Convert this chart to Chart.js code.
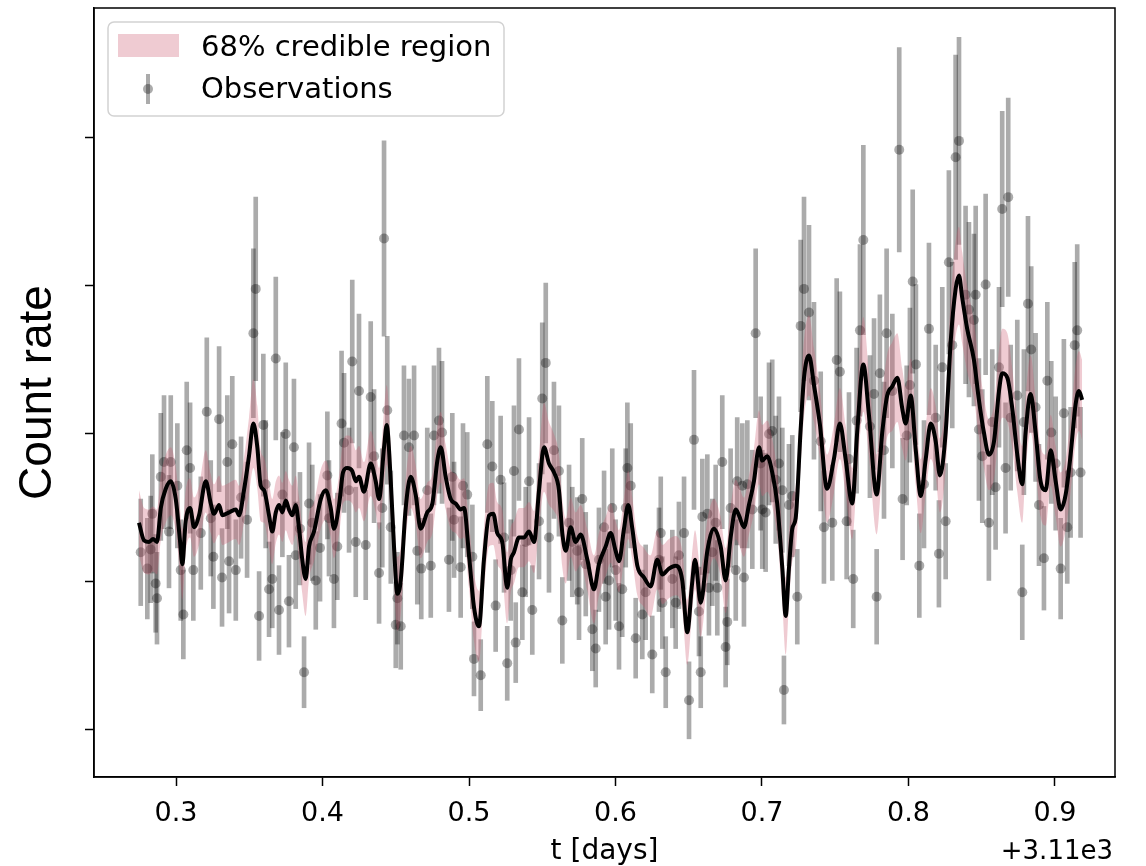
<!DOCTYPE html>
<html lang="en">
<head>
    <meta charset="UTF-8">
    <title>Count rate light curve</title>
    <script src="https://cdn.jsdelivr.net/npm/chart.js"></script>
    <style>
        body { margin: 0; background: #fff; }
    </style>
</head>
<body>
    <canvas id="lightCurveChart" width="1146" height="866"></canvas>
    <script>
        // tick positions (t offset from 3110 days) and hidden y ticks
        const xTickValues = [0.3, 0.4, 0.5, 0.6, 0.7, 0.8, 0.9];
        const yTickValues = [10, 20, 30, 40, 50];
        const timeOffsetLabel = '+3.11e3';

        // observations
        const obsTime = [
            0.2759,0.2804,0.2827,0.2838,0.2861,0.2870,0.2896,0.2918,0.2952,0.2964,
            0.3009,0.3032,0.3050,0.3073,0.3096,0.3118,0.3169,0.3210,0.3237,0.3255,
            0.3294,0.3314,0.3350,0.3362,0.3384,0.3408,0.3444,0.3485,0.3528,0.3544,
            0.3567,0.3596,0.3612,0.3635,0.3657,0.3681,0.3703,0.3726,0.3749,0.3771,
            0.3805,0.3817,0.3846,0.3874,0.3908,0.3930,0.3954,0.3983,0.4033,0.4044,
            0.4078,0.4101,0.4130,0.4147,0.4181,0.4203,0.4227,0.4249,0.4295,0.4329,
            0.4352,0.4386,0.4408,0.4420,0.4442,0.4466,0.4500,0.4511,0.4534,0.4556,
            0.4590,0.4625,0.4647,0.4674,0.4715,0.4739,0.4761,0.4795,0.4816,0.4863,
            0.4886,0.4898,0.4943,0.4959,0.4988,0.5023,0.5034,0.5080,0.5125,0.5159,
            0.5182,0.5216,0.5239,0.5261,0.5285,0.5307,0.5319,0.5341,0.5364,0.5387,
            0.5410,0.5432,0.5478,0.5500,0.5524,0.5546,0.5580,0.5614,0.5637,0.5683,
            0.5705,0.5739,0.5751,0.5773,0.5797,0.5842,0.5865,0.5887,0.5922,0.5933,
            0.5956,0.5978,0.6001,0.6024,0.6046,0.6070,0.6081,0.6104,0.6138,0.6183,
            0.6206,0.6251,0.6297,0.6309,0.6320,0.6343,0.6388,0.6411,0.6433,0.6468,
            0.6502,0.6536,0.6570,0.6582,0.6593,0.6627,0.6638,0.6661,0.6684,0.6695,
            0.6729,0.6752,0.6763,0.6786,0.6821,0.6831,0.6866,0.6877,0.6900,0.6934,
            0.6957,0.6991,0.7002,0.7025,0.7048,0.7070,0.7094,0.7116,0.7139,0.7150,
            0.7184,0.7207,0.7241,0.7264,0.7287,0.7321,0.7355,0.7401,0.7423,0.7480,
            0.7510,0.7532,0.7578,0.7594,0.7623,0.7646,0.7669,0.7692,0.7737,0.7765,
            0.7783,0.7805,0.7833,0.7851,0.7890,0.7937,0.7960,0.7988,0.8010,0.8029,
            0.8051,0.8074,0.8106,0.8140,0.8186,0.8208,0.8231,0.8254,0.8276,0.8299,
            0.8322,0.8345,0.8390,0.8413,0.8447,0.8459,0.8481,0.8504,0.8527,0.8549,
            0.8572,0.8595,0.8618,0.8640,0.8663,0.8681,0.8698,0.8743,0.8777,0.8788,
            0.8816,0.8838,0.8868,0.8891,0.8925,0.8948,0.8975,0.9005,0.9039,0.9061,
            0.9084,0.9107,0.9135,0.9152,0.9175
        ];
        const obsRate = [
            22.0,20.9,22.2,24.6,19.9,18.9,27.1,28.1,23.4,28.1,
            26.5,20.8,17.8,28.9,27.7,20.8,23.3,31.5,24.3,21.7,
            31.0,20.3,28.1,21.4,29.3,20.8,25.7,24.2,36.8,39.8,
            17.7,30.6,26.6,19.5,20.2,35.1,18.1,25.9,30.0,18.7,
            29.1,21.8,23.6,13.9,25.3,24.0,20.1,22.3,27.2,24.3,
            20.2,22.4,30.7,29.4,26.2,34.9,22.7,32.9,22.5,32.5,
            28.5,20.6,25.0,43.2,31.6,23.7,17.1,18.9,17.0,29.9,
            29.1,29.9,22.1,20.9,26.2,21.1,29.9,30.9,30.1,21.5,
            27.1,24.2,21.0,26.5,25.9,21.7,14.8,13.7,29.3,27.8,
            18.4,26.9,23.0,14.5,20.8,27.5,15.9,30.3,19.3,22.7,
            26.8,18.1,24.1,32.4,34.8,23.0,28.9,27.5,17.4,24.0,
            22.7,22.1,19.3,25.6,21.2,16.8,15.5,21.5,23.7,19.0,
            20.1,25.0,20.8,17.0,19.5,25.0,27.7,26.5,16.2,17.8,
            19.3,15.1,21.5,23.3,18.6,13.9,20.2,18.6,21.8,23.3,
            12.0,29.6,18.0,13.9,24.4,24.6,19.6,22.0,24.0,19.6,
            28.1,15.6,17.3,25.0,20.8,26.8,26.5,20.3,26.6,24.9,
            36.8,28.0,24.9,24.7,30.0,30.2,26.9,28.0,26.2,12.7,
            25.2,25.8,19.0,37.3,39.8,38.2,33.6,29.5,23.7,24.0,
            35.0,34.2,24.1,28.3,20.2,30.9,37.0,43.1,30.5,32.7,
            19.0,34.1,28.9,36.8,32.9,49.2,25.6,29.9,33.3,40.3,
            34.7,21.1,26.6,37.1,31.1,21.9,34.5,24.1,41.6,36.0,
            48.7,49.8,39.4,38.4,37.7,39.4,30.3,28.5,40.1,24.0,
            30.8,26.4,34.5,45.2,27.7,46.0,31.1,32.6,19.3,30.8,
            38.8,35.7,31.8,25.2,21.6,33.6,30.1,28.0,20.9,31.4,
            23.7,27.4,36.0,37.0,27.4
        ];
        const obsError = [
            3.6,3.4,3.6,4.0,3.3,3.1,4.3,4.5,3.8,4.5,
            4.2,3.4,3.0,4.6,4.4,3.4,3.8,5.0,3.9,3.5,
            4.9,3.3,4.5,3.5,4.6,3.4,4.1,3.9,5.7,6.2,
            3.0,4.8,4.3,3.2,3.3,5.5,3.0,4.2,4.8,3.1,
            4.6,3.6,3.8,2.4,4.1,3.9,3.3,3.6,4.3,3.9,
            3.3,3.6,4.9,4.7,4.2,5.5,3.7,5.2,3.7,5.1,
            4.5,3.4,4.0,6.6,5.0,3.8,2.9,3.1,2.9,4.7,
            4.6,4.7,3.6,3.4,4.2,3.5,4.7,4.9,4.8,3.5,
            4.3,3.9,3.4,4.2,4.2,3.5,2.5,2.4,4.6,4.4,
            3.1,4.3,3.7,2.5,3.4,4.4,2.7,4.8,3.2,3.7,
            4.3,3.0,3.9,5.1,5.4,3.7,4.6,4.4,2.9,3.9,
            3.7,3.6,3.2,4.1,3.5,2.8,2.6,3.5,3.8,3.2,
            3.3,4.0,3.4,2.9,3.2,4.0,4.4,4.2,2.7,3.0,
            3.2,2.6,3.5,3.8,3.1,2.4,3.3,3.1,3.6,3.8,
            2.6,4.7,3.0,2.4,3.9,4.0,3.2,3.6,3.9,3.2,
            4.5,2.7,2.9,4.0,3.4,4.3,4.2,3.3,4.3,4.0,
            5.7,4.5,4.0,4.0,4.8,4.8,4.3,4.5,4.2,2.3,
            4.1,4.1,3.2,5.8,6.2,5.9,5.3,4.7,3.8,3.9,
            5.5,5.4,3.9,4.5,3.3,4.9,5.8,6.4,4.8,5.1,
            3.2,5.3,4.6,5.7,5.2,6.9,4.1,4.7,5.2,6.2,
            5.4,3.5,4.3,5.8,4.9,3.6,5.4,3.9,6.2,5.6,
            6.9,7.0,6.0,5.9,5.8,6.0,4.8,4.5,6.1,3.9,
            4.9,4.2,5.4,6.6,4.4,6.7,4.9,5.1,3.2,4.9,
            5.9,5.6,5.0,4.1,3.5,5.3,4.8,4.5,3.4,5.0,
            3.8,4.4,5.6,5.8,4.4
        ];

        // posterior mean of the model and half width of the 68% region
        const modelTime = [
            0.2747,0.2782,0.2816,0.2843,0.2870,0.2896,0.2930,0.2964,0.2998,0.3027,
            0.3043,0.3066,0.3096,0.3123,0.3157,0.3203,0.3237,0.3259,0.3294,0.3316,
            0.3362,0.3408,0.3430,0.3464,0.3498,0.3528,0.3555,0.3578,0.3601,0.3635,
            0.3657,0.3681,0.3703,0.3726,0.3749,0.3771,0.3794,0.3817,0.3840,0.3862,
            0.3885,0.3908,0.3942,0.3988,0.4022,0.4056,0.4078,0.4113,0.4140,0.4169,
            0.4203,0.4227,0.4249,0.4283,0.4329,0.4363,0.4386,0.4420,0.4438,0.4466,
            0.4488,0.4511,0.4534,0.4568,0.4602,0.4636,0.4670,0.4715,0.4750,0.4784,
            0.4807,0.4841,0.4875,0.4909,0.4943,0.4966,0.5000,0.5034,0.5068,0.5102,
            0.5137,0.5166,0.5193,0.5227,0.5261,0.5285,0.5307,0.5341,0.5375,0.5410,
            0.5444,0.5478,0.5512,0.5546,0.5580,0.5614,0.5637,0.5660,0.5694,0.5728,
            0.5762,0.5808,0.5853,0.5887,0.5933,0.5967,0.6001,0.6024,0.6058,0.6087,
            0.6115,0.6149,0.6195,0.6240,0.6285,0.6320,0.6365,0.6411,0.6456,0.6490,
            0.6522,0.6543,0.6582,0.6627,0.6672,0.6718,0.6752,0.6786,0.6821,0.6843,
            0.6877,0.6911,0.6945,0.6980,0.7002,0.7036,0.7070,0.7104,0.7139,0.7162,
            0.7184,0.7207,0.7230,0.7264,0.7287,0.7321,0.7355,0.7396,0.7444,0.7491,
            0.7532,0.7571,0.7616,0.7650,0.7692,0.7730,0.7783,0.7821,0.7855,0.7889,
            0.7924,0.7958,0.7981,0.8015,0.8050,0.8084,0.8118,0.8152,0.8186,0.8215,
            0.8254,0.8288,0.8322,0.8345,0.8367,0.8401,0.8447,0.8481,0.8515,0.8549,
            0.8584,0.8618,0.8640,0.8675,0.8709,0.8743,0.8777,0.8800,0.8834,0.8868,
            0.8902,0.8937,0.8971,0.9005,0.9039,0.9073,0.9107,0.9141,0.9164,0.9186
        ];
        const modelRate = [
            24.0,22.8,22.7,22.9,22.7,25.0,26.3,26.8,25.6,22.8,
            21.2,24.1,25.0,23.7,24.5,26.8,25.3,24.6,25.2,24.5,
            24.7,24.9,24.5,26.2,28.5,30.7,29.1,26.5,26.2,24.5,
            23.4,24.7,25.2,24.7,25.5,24.9,24.5,25.2,23.6,21.5,
            20.2,22.4,23.4,25.6,26.2,25.0,23.6,25.2,27.4,27.7,
            27.5,26.8,27.1,26.1,28.0,26.8,25.6,29.1,30.6,26.8,
            22.4,19.2,20.1,25.0,27.1,25.9,23.6,24.7,25.3,28.2,
            29.1,27.1,25.6,25.3,24.9,25.0,21.8,18.3,17.0,21.5,
            24.5,24.6,23.3,22.7,19.6,21.5,22.0,23.0,23.0,23.4,
            22.7,26.2,29.1,28.0,27.4,26.2,23.3,22.1,23.7,22.7,
            23.2,21.5,19.5,21.2,22.4,23.3,22.1,21.4,23.6,25.2,
            23.6,21.1,20.3,19.7,21.5,20.5,20.9,21.1,20.1,16.6,
            19.8,21.5,18.6,22.1,23.6,22.4,20.1,23.0,24.9,24.5,
            23.7,25.2,26.8,29.1,28.2,28.5,27.4,25.3,20.9,17.7,
            20.9,23.6,24.3,30.3,33.8,35.3,33.3,30.6,26.3,28.3,
            30.7,28.3,25.3,30.1,34.7,31.3,25.9,30.1,32.6,33.2,
            33.8,31.7,30.7,32.6,28.9,25.8,28.3,30.7,29.5,27.2,
            30.1,36.2,39.8,40.7,39.2,37.1,35.0,32.3,30.1,28.6,
            29.5,32.9,34.1,33.8,31.7,28.6,26.6,30.1,32.7,30.1,
            26.8,26.2,28.9,26.8,24.9,25.9,28.6,32.0,32.9,32.3
        ];
        const bandHalfWidth = [
            2.2,2.2,2.2,2.2,2.2,2.2,2.3,2.3,2.2,2.2,
            2.4,2.1,2.0,2.0,2.0,2.1,2.0,2.0,2.0,2.0,
            2.0,2.0,2.0,2.2,2.6,3.0,2.8,2.4,2.2,2.2,
            2.2,2.1,2.0,2.0,2.0,2.0,2.0,2.0,2.1,2.3,
            2.5,2.2,2.0,2.0,2.0,2.0,2.0,2.0,2.1,2.2,
            2.2,2.1,2.1,2.0,2.2,2.1,2.1,2.5,2.7,2.4,
            2.4,2.5,2.3,2.0,2.1,2.0,2.0,2.0,2.0,2.3,
            2.4,2.2,2.0,2.0,2.0,2.0,2.2,2.3,2.4,2.2,
            2.1,2.1,2.1,2.2,2.4,2.2,2.1,2.0,2.0,2.0,
            2.1,2.4,3.0,2.8,2.6,2.4,2.3,2.2,2.0,2.0,
            2.0,2.1,2.3,2.1,2.0,2.0,2.0,2.1,2.1,2.3,
            2.1,2.0,2.0,2.1,2.0,2.0,2.0,2.0,2.0,2.2,
            2.0,2.0,2.3,2.1,2.0,2.0,2.2,2.1,2.0,2.0,
            2.0,2.0,2.2,2.5,2.4,2.4,2.3,2.2,2.4,2.6,
            2.4,2.2,2.2,2.4,2.6,2.7,2.5,2.3,2.3,2.3,
            2.4,2.3,2.4,2.7,3.2,2.8,2.7,2.6,2.8,3.0,
            3.0,2.7,2.5,2.5,2.4,2.5,2.3,2.4,2.4,2.5,
            2.5,2.8,3.2,3.3,3.1,2.9,2.6,2.5,2.4,2.4,
            2.5,2.8,3.0,3.0,2.7,2.5,2.6,2.5,2.6,2.4,
            2.4,2.4,2.4,2.4,2.5,2.4,2.5,2.6,2.7,2.7
        ];

        const obsColor = 'rgba(0, 0, 0, 0.33)';
        const bandColor = 'rgba(205, 92, 115, 0.32)';
        const textFont = '"DejaVu Sans", sans-serif';

        Chart.defaults.font.family = textFont;
        Chart.defaults.color = '#000';

        // box round the axes, the legend and the offset text
        const frameAndLegend = {
            id: 'frameAndLegend',
            afterDraw(chart) {
                const { ctx, chartArea: a } = chart;
                ctx.save();
                ctx.strokeStyle = '#000';
                ctx.lineWidth = 1.5;
                ctx.strokeRect(a.left, a.top, a.right - a.left, a.bottom - a.top);

                const lx = a.left + 14, ly = a.top + 14, lw = 396, lh = 94;
                ctx.beginPath();
                ctx.roundRect(lx, ly, lw, lh, 6);
                ctx.fillStyle = 'rgba(255, 255, 255, 0.8)';
                ctx.fill();
                ctx.strokeStyle = '#d2d2d2';
                ctx.lineWidth = 1.5;
                ctx.stroke();

                ctx.fillStyle = bandColor;
                ctx.fillRect(lx + 10, ly + 12, 61, 23);

                ctx.fillStyle = obsColor;
                ctx.fillRect(lx + 38, ly + 52, 4, 30);
                ctx.beginPath();
                ctx.arc(lx + 40, ly + 67, 5, 0, Math.PI * 2);
                ctx.fill();

                ctx.fillStyle = '#000';
                ctx.font = '29px ' + textFont;
                ctx.textAlign = 'left';
                ctx.textBaseline = 'middle';
                ctx.fillText('68% credible region', lx + 93, ly + 26);
                ctx.fillText('Observations', lx + 93, ly + 68);

                ctx.font = '26px ' + textFont;
                ctx.textAlign = 'right';
                ctx.fillText(timeOffsetLabel, a.right - 2, 852);
                ctx.restore();
            }
        };

        const ctx = document.getElementById('lightCurveChart').getContext('2d');
        new Chart(ctx, {
            type: 'line',
            data: {
                datasets: [
                    {
                        label: 'Mean',
                        data: modelTime.map((t, i) => ({ x: t, y: modelRate[i] })),
                        borderColor: '#000',
                        borderWidth: 4,
                        pointRadius: 0,
                        cubicInterpolationMode: 'monotone',
                        fill: false,
                        order: 0
                    },
                    {
                        label: 'band low',
                        data: modelTime.map((t, i) => ({ x: t, y: modelRate[i] - bandHalfWidth[i] })),
                        borderWidth: 0,
                        borderColor: 'rgba(0,0,0,0)',
                        pointRadius: 0,
                        cubicInterpolationMode: 'monotone',
                        fill: false,
                        order: 1
                    },
                    {
                        label: '68% credible region',
                        data: modelTime.map((t, i) => ({ x: t, y: modelRate[i] + bandHalfWidth[i] })),
                        borderWidth: 0,
                        borderColor: 'rgba(0,0,0,0)',
                        backgroundColor: bandColor,
                        pointRadius: 0,
                        cubicInterpolationMode: 'monotone',
                        fill: '-1',
                        order: 1
                    },
                    {
                        label: 'Observations',
                        data: obsTime.map((t, i) => ({ x: t, y: obsRate[i] })),
                        showLine: false,
                        pointRadius: 5,
                        pointBorderWidth: 0,
                        pointBackgroundColor: obsColor,
                        order: 2
                    },
                    {
                        type: 'bar',
                        label: 'Error',
                        data: obsTime.map((t, i) => ({ x: t, y: [obsRate[i] - obsError[i], obsRate[i] + obsError[i]] })),
                        backgroundColor: obsColor,
                        borderWidth: 0,
                        barThickness: 4,
                        grouped: false,
                        order: 3
                    }
                ]
            },
            options: {
                responsive: false,
                animation: false,
                devicePixelRatio: 1,
                events: [],
                layout: { padding: { left: 0, top: 8, right: 31, bottom: 0 } },
                plugins: {
                    legend: { display: false },
                    tooltip: { enabled: false }
                },
                scales: {
                    x: {
                        type: 'linear',
                        min: 0.244,
                        max: 0.941,
                        offset: false,
                        afterBuildTicks: scale => { scale.ticks = xTickValues.map(v => ({ value: v })); },
                        afterFit: scale => { scale.height = 89; },
                        ticks: {
                            font: { size: 27 },
                            color: '#000',
                            padding: 12,
                            maxRotation: 0,
                            autoSkip: false,
                            callback: v => v.toFixed(1)
                        },
                        grid: {
                            drawOnChartArea: false,
                            drawTicks: true,
                            tickLength: 9,
                            tickWidth: 1.5,
                            tickColor: '#000',
                            offset: false
                        },
                        border: { display: true, color: '#000', width: 1.5 },
                        title: {
                            display: true,
                            text: 't [days]',
                            font: { size: 28, lineHeight: 1.0 },
                            color: '#000',
                            padding: { top: 0, bottom: 0 }
                        }
                    },
                    y: {
                        type: 'linear',
                        min: 6.82,
                        max: 58.78,
                        afterBuildTicks: scale => { scale.ticks = yTickValues.map(v => ({ value: v })); },
                        afterFit: scale => { scale.width = 94; },
                        ticks: { display: false },
                        grid: {
                            drawOnChartArea: false,
                            drawTicks: true,
                            tickLength: 9,
                            tickWidth: 1.5,
                            tickColor: '#000'
                        },
                        border: { display: true, color: '#000', width: 1.5 },
                        title: {
                            display: true,
                            text: 'Count rate',
                            font: { family: '"Liberation Sans", Arial, sans-serif', size: 46 },
                            color: '#000',
                            padding: { top: 11, bottom: 0 }
                        }
                    }
                }
            },
            plugins: [frameAndLegend]
        });
    </script>
</body>
</html>
